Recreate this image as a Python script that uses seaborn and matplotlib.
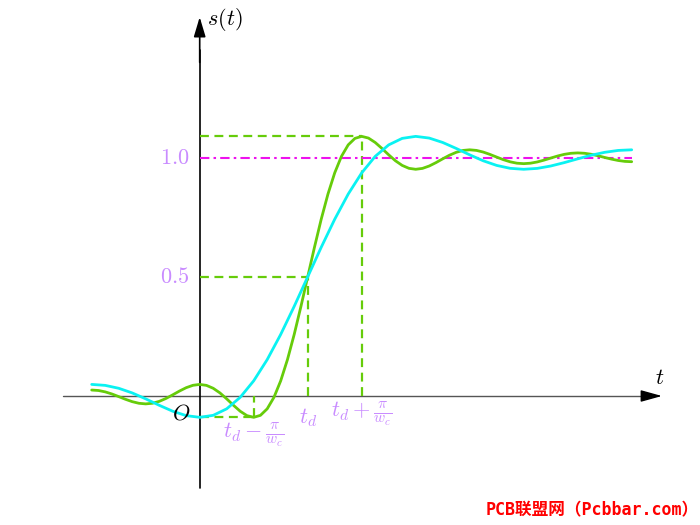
import numpy as np
import pandas as pd
import matplotlib
matplotlib.use('Agg')
import matplotlib.pyplot as plt
import seaborn as sns

# step response values (t from -2 to 8)
green_s = [0.0250, 0.0231, 0.0173, 0.0084, -0.0025, -0.0138, -0.0237, -0.0306,
           -0.0331, -0.0305, -0.0226, -0.0104, 0.0048, 0.0207, 0.0349, 0.0449,
           0.0486, 0.0446, 0.0324, 0.0129, -0.0120, -0.0389, -0.0639, -0.0824,
           -0.0895, -0.0811, -0.0538, -0.0056, 0.0637, 0.1527, 0.2584, 0.3761,
           0.5000, 0.6239, 0.7416, 0.8473, 0.9363, 1.0056, 1.0538, 1.0811,
           1.0895, 1.0824, 1.0639, 1.0389, 1.0120, 0.9871, 0.9676, 0.9554,
           0.9514, 0.9551, 0.9651, 0.9793, 0.9952, 1.0104, 1.0226, 1.0305,
           1.0331, 1.0306, 1.0237, 1.0138, 1.0025, 0.9916, 0.9827, 0.9769,
           0.9750, 0.9769, 0.9821, 0.9897, 0.9984, 1.0069, 1.0140, 1.0185,
           1.0201, 1.0186, 1.0144, 1.0082, 1.0010, 0.9941, 0.9883, 0.9845,
           0.9832]
cyan_s = [0.0486, 0.0446, 0.0324, 0.0129, -0.0120, -0.0389, -0.0639, -0.0824,
          -0.0895, -0.0811, -0.0538, -0.0056, 0.0637, 0.1527, 0.2584, 0.3761,
          0.5000, 0.6239, 0.7416, 0.8473, 0.9363, 1.0056, 1.0538, 1.0811,
          1.0895, 1.0824, 1.0639, 1.0389, 1.0120, 0.9871, 0.9676, 0.9554,
          0.9514, 0.9551, 0.9651, 0.9793, 0.9952, 1.0104, 1.0226, 1.0305,
          1.0331]
t_start, t_end = -2.0, 8.0
td = 2.0        # delay
half_w = 1.0    # pi / w_c
ytick_vals = [0.5, 1.0]
ytick_labels = [r'$0.5$', r'$1.0$']

green_t = np.linspace(t_start, t_end, len(green_s))
cyan_t = np.linspace(t_start, t_end, len(cyan_s))
df = pd.concat([
    pd.DataFrame({'t': green_t, 's': green_s, 'curve': 'green'}),
    pd.DataFrame({'t': cyan_t, 's': cyan_s, 'curve': 'cyan'}),
])

sns.set_theme(style='white')
plt.rcParams['mathtext.fontset'] = 'cm'
plt.rcParams['font.family'] = ['DejaVu Sans']

GREEN = '#66cc0a'
CYAN = '#0af2f2'
MAGENTA = '#ee11ee'
LAV = '#c98cff'

fig = plt.figure(figsize=(7, 5.25), dpi=100)
ax = fig.add_axes([0, 0, 1, 1])
px = 54.0     # pixels per unit of t
py = 238.3    # pixels per unit of s
ax.set_xlim(-199.7 / px, (700 - 199.7) / px)
ax.set_ylim(-(525 - 396) / py, 396 / py)
ax.axis('off')

# axes with arrows
ax.plot([-2.53, 8.3], [0, 0], color='#555555', lw=1.0, zorder=1)
ax.annotate('', xy=(8.56, 0), xytext=(8.2, 0),
            arrowprops=dict(arrowstyle='-|>,head_length=1.3,head_width=0.36',
                            color='black', lw=1.0, shrinkA=0, shrinkB=0,
                            mutation_scale=10))
ax.plot([0, 0], [-0.387, 1.45], color='black', lw=1.2, zorder=1)
ax.annotate('', xy=(0, 1.59), xytext=(0, 1.4),
            arrowprops=dict(arrowstyle='-|>,head_length=1.2,head_width=0.36',
                            color='black', lw=1.2, shrinkA=0, shrinkB=0,
                            mutation_scale=10))

peak = max(green_s)
trough = min(green_s)
dash = dict(color=GREEN, lw=1.6, linestyle=(0, (4, 2.5)), zorder=2)
ax.plot([0, td + half_w], [peak, peak], **dash)
ax.plot([td + half_w, td + half_w], [0, peak], **dash)
ax.plot([0, td], [0.5, 0.5], **dash)
ax.plot([td, td], [0, 0.5], **dash)
ax.plot([0, td - half_w], [trough, trough], **dash)
ax.plot([td - half_w, td - half_w], [trough, 0], **dash)
ax.plot([0, t_end], [1.0, 1.0], color=MAGENTA, lw=1.5,
        linestyle=(0, (4.5, 2, 1.2, 2)), zorder=2)

sns.lineplot(data=df, x='t', y='s', hue='curve', sort=False,
             palette={'green': GREEN, 'cyan': CYAN}, linewidth=2.0,
             legend=False, ax=ax, zorder=3)

# labels
for v, lab in zip(ytick_vals, ytick_labels):
    ax.text(-0.19, v, lab, color=LAV, fontsize=16, ha='right', va='center')
ax.text(0.14, 1.578, r'$s(t)$', fontsize=16, ha='left', va='center', color='black')
ax.text(8.52, 0.075, r'$t$', fontsize=16, ha='center', va='center', color='black')
ax.text(-0.35, -0.072, r'$O$', fontsize=16, ha='center', va='center', color='black')
ax.text(td, -0.09, r'$t_d$', fontsize=16, ha='center', va='center', color=LAV)
ax.text(td - half_w, -0.165, r'$t_d-\frac{\pi}{w_c}$', fontsize=16,
        ha='center', va='center', color=LAV)
ax.text(td + half_w, -0.075, r'$t_d+\frac{\pi}{w_c}$', fontsize=16,
        ha='center', va='center', color=LAV)

fig.text(699 / 700, 1 - 510 / 525, 'PCB联盟网（Pcbbar.com）', color='red',
         fontsize=12, fontweight='bold', ha='right', va='center',
         family=['DejaVu Sans Mono', 'Noto Sans CJK SC'])

fig.savefig('out.png', dpi=100)
